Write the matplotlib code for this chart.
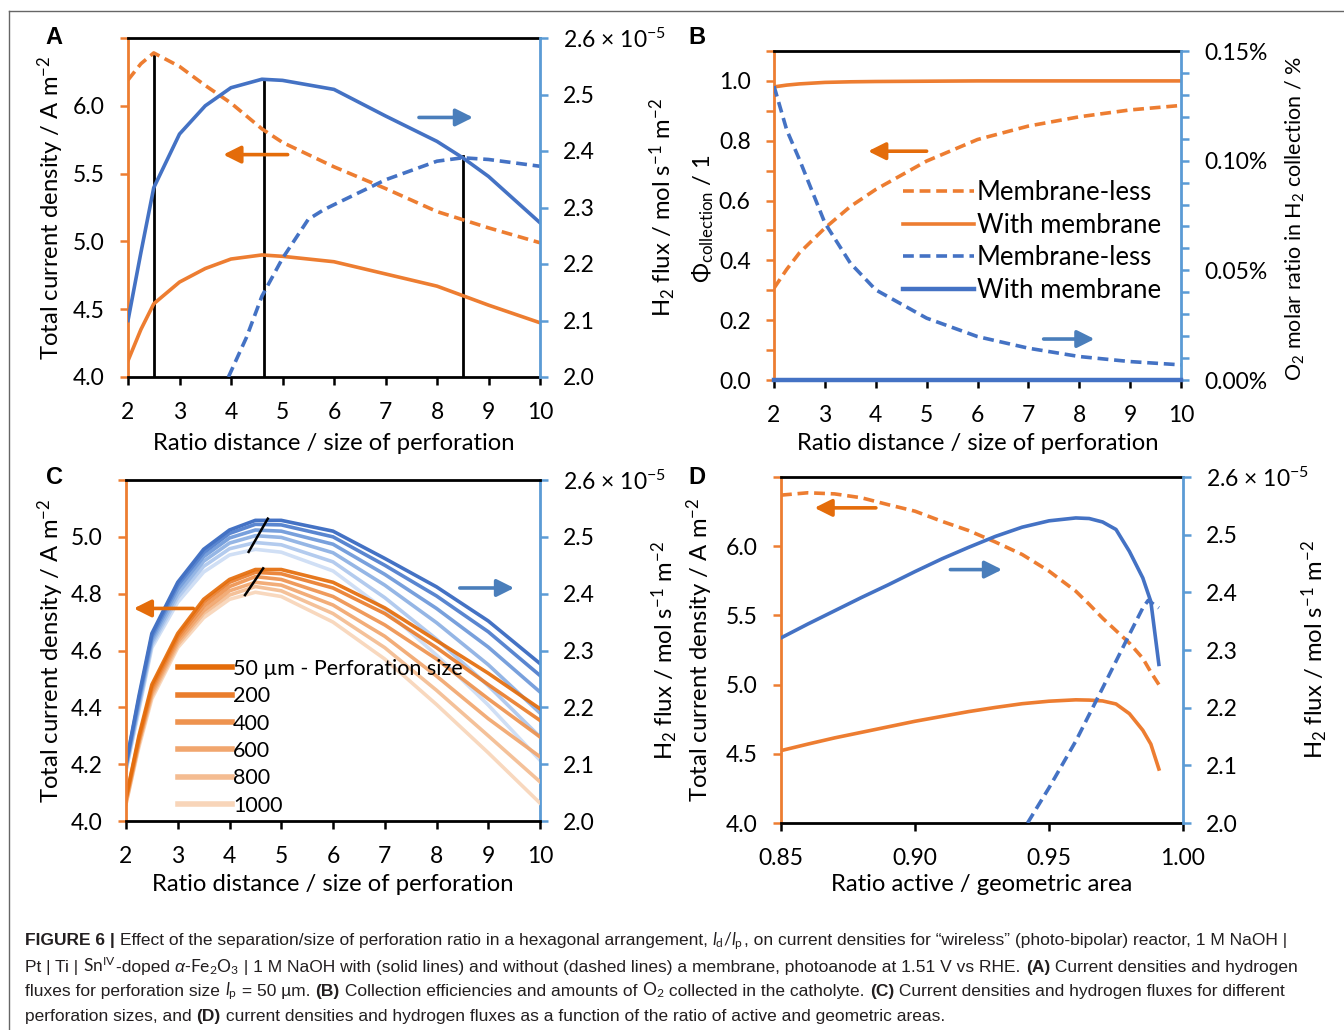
import matplotlib
matplotlib.use("Agg")
import matplotlib.pyplot as plt
from matplotlib.ticker import FixedLocator, FuncFormatter
from matplotlib.lines import Line2D
from matplotlib.offsetbox import TextArea, HPacker, AnchoredOffsetbox

plt.rcParams['font.family'] = ['Lato', 'DejaVu Sans']
plt.rcParams['mathtext.fontset'] = 'custom'
plt.rcParams['mathtext.rm'] = 'Lato'
plt.rcParams['mathtext.it'] = 'Lato:italic'
plt.rcParams['mathtext.bf'] = 'Lato:bold'

ORANGE = '#ED7D31'
ORANGE_ARROW = '#E46C0A'
BLUE = '#4472C4'
BLUE_AXIS = '#5B9BD5'
BLUE_ARROW = '#4A7EBB'

# ---- data ----
# A: current density (A m-2) and H2 flux (x 1e-5 mol s-1 m-2), perforation 50 um
ratio_a = [2, 2.25, 2.5, 3, 3.5, 4, 4.6, 5, 6, 7, 8, 8.5, 9, 10]
j_nomem_a = [6.19, 6.31, 6.39, 6.29, 6.15, 6.02, 5.83, 5.73, 5.55, 5.39, 5.22, 5.16, 5.10, 4.99]
j_mem_a = [4.12, 4.35, 4.54, 4.70, 4.80, 4.87, 4.90, 4.89, 4.85, 4.76, 4.67, 4.60, 4.53, 4.40]
h2_mem_a = [2.10, 2.22, 2.335, 2.43, 2.48, 2.512, 2.527, 2.525, 2.509, 2.462, 2.417, 2.388, 2.355, 2.273]
ratio_a_nomem = [3.95, 4.3, 4.6, 5, 5.5, 5.8, 6, 7, 8, 8.5, 9, 10]
h2_nomem_a = [2.0, 2.07, 2.143, 2.21, 2.279, 2.296, 2.305, 2.349, 2.382, 2.388, 2.385, 2.373]
peak_x_a = [2.5, 4.65, 8.5]
peak_top_a = [6.39, 6.195, 5.63]

# B: collection efficiency and O2 molar ratio (%)
ratio_b = [2, 2.25, 2.5, 3, 3.5, 4, 5, 6, 7, 8, 9, 10]
phi_nomem = [0.307, 0.37, 0.425, 0.508, 0.58, 0.637, 0.732, 0.804, 0.849, 0.88, 0.903, 0.918]
phi_mem = [0.98, 0.986, 0.99, 0.995, 0.997, 0.998, 0.999, 1.0, 1.0, 1.0, 1.0, 1.0]
o2_nomem = [0.134, 0.114, 0.1005, 0.0716, 0.0533, 0.0411, 0.0282, 0.0198, 0.0145, 0.0107, 0.0084, 0.0069]
o2_mem = [0, 0, 0, 0, 0, 0, 0, 0, 0, 0, 0, 0]

# C: different perforation sizes (with membrane)
ratio_c = [2, 2.25, 2.5, 3, 3.5, 4, 4.5, 5, 6, 7, 8, 9, 10]
sizes_c = ['50 µm - Perforation size', '200', '400', '600', '800', '1000']
j_c = [
    [4.08, 4.30, 4.48, 4.66, 4.78, 4.85, 4.885, 4.885, 4.84, 4.75, 4.635, 4.52, 4.395],
    [4.08, 4.29, 4.47, 4.65, 4.77, 4.84, 4.875, 4.87, 4.82, 4.73, 4.61, 4.48, 4.354],
    [4.07, 4.28, 4.46, 4.64, 4.755, 4.825, 4.86, 4.85, 4.79, 4.69, 4.57, 4.43, 4.296],
    [4.07, 4.28, 4.45, 4.63, 4.74, 4.81, 4.84, 4.83, 4.76, 4.65, 4.51, 4.36, 4.226],
    [4.06, 4.27, 4.44, 4.62, 4.73, 4.795, 4.825, 4.81, 4.73, 4.61, 4.46, 4.30, 4.138],
    [4.06, 4.26, 4.43, 4.61, 4.715, 4.78, 4.805, 4.79, 4.70, 4.57, 4.41, 4.24, 4.063],
]
h2_c = [
    [2.10, 2.22, 2.33, 2.42, 2.478, 2.512, 2.529, 2.529, 2.51, 2.462, 2.412, 2.352, 2.277],
    [2.10, 2.215, 2.325, 2.415, 2.472, 2.506, 2.522, 2.521, 2.50, 2.45, 2.396, 2.333, 2.256],
    [2.095, 2.21, 2.32, 2.408, 2.465, 2.498, 2.512, 2.510, 2.487, 2.434, 2.374, 2.306, 2.227],
    [2.095, 2.205, 2.315, 2.40, 2.457, 2.489, 2.502, 2.499, 2.472, 2.415, 2.349, 2.275, 2.19],
    [2.09, 2.20, 2.31, 2.393, 2.448, 2.479, 2.49, 2.486, 2.456, 2.393, 2.32, 2.238, 2.148],
    [2.09, 2.195, 2.305, 2.385, 2.438, 2.468, 2.478, 2.473, 2.44, 2.372, 2.292, 2.204, 2.107],
]
orange_shades = ['#E46C0A', '#EA7D2C', '#EE934F', '#F1A66E', '#F4BC91', '#F8D5B9']
blue_shades = ['#4472C4', '#5A86D0', '#78A0DC', '#95B6E5', '#B3CBEE', '#D0DFF5']

# D: ratio active / geometric area
area_d = [0.85, 0.86, 0.87, 0.88, 0.89, 0.90, 0.91, 0.92, 0.93, 0.94, 0.95, 0.96,
          0.965, 0.97, 0.975, 0.98, 0.985, 0.988, 0.991]
j_nomem_d = [6.369, 6.386, 6.378, 6.35, 6.30, 6.253, 6.18, 6.113, 6.03, 5.94, 5.82, 5.675,
             5.58, 5.48, 5.39, 5.30, 5.19, 5.09, 5.00]
j_mem_d = [4.523, 4.57, 4.615, 4.655, 4.695, 4.735, 4.77, 4.805, 4.835, 4.862, 4.88, 4.89,
           4.888, 4.882, 4.86, 4.79, 4.67, 4.57, 4.39]
h2_mem_d = [2.321, 2.345, 2.368, 2.391, 2.413, 2.436, 2.458, 2.478, 2.497, 2.513, 2.524, 2.529,
            2.528, 2.522, 2.509, 2.471, 2.425, 2.384, 2.275]
area_d_nomem = [0.942, 0.95, 0.96, 0.97, 0.98, 0.985, 0.987, 0.991]
h2_nomem_d = [2.0, 2.061, 2.142, 2.234, 2.327, 2.373, 2.386, 2.373]

W, H = 1344, 1030
fig = plt.figure(figsize=(W / 100, H / 100), dpi=100)

TICK = 16.5
LABEL = 17.2


def rect(l, t, r, b):
    return [l / W, 1 - b / H, (r - l) / W, (b - t) / H]


def panel(r, xlim, xticks, xfmt, ylim, yticks, yfmt, y2lim, y2ticks, y2fmt):
    ax = fig.add_axes(rect(*r))
    ax2 = ax.twinx()
    ax.set_xlim(xlim)
    ax.set_ylim(ylim)
    ax2.set_ylim(y2lim)
    ax.xaxis.set_major_locator(FixedLocator(xticks))
    ax.xaxis.set_major_formatter(FuncFormatter(xfmt))
    ax.yaxis.set_major_locator(FixedLocator(yticks))
    ax.yaxis.set_major_formatter(FuncFormatter(yfmt))
    ax2.yaxis.set_major_locator(FixedLocator(y2ticks))
    ax2.yaxis.set_major_formatter(FuncFormatter(y2fmt))
    for s in ['top', 'bottom']:
        ax.spines[s].set_color('black')
        ax.spines[s].set_linewidth(2)
    ax.spines['left'].set_color(ORANGE)
    ax.spines['left'].set_linewidth(2)
    ax.spines['right'].set_visible(False)
    for s in ['top', 'bottom', 'left']:
        ax2.spines[s].set_visible(False)
    ax2.spines['right'].set_color(BLUE_AXIS)
    ax2.spines['right'].set_linewidth(2)
    ax.tick_params(axis='x', direction='out', length=5.8, width=1.8, color='black', pad=12, labelsize=TICK)
    ax.tick_params(axis='y', direction='out', length=5.8, width=1.8, color=ORANGE, pad=11, labelsize=TICK)
    ax2.tick_params(axis='y', direction='out', length=5.8, width=1.8, color=BLUE_AXIS, pad=11, labelsize=TICK)
    return ax, ax2


def arrow(ax, tail, head, color):
    ax.annotate('', xy=head, xytext=tail,
                arrowprops=dict(arrowstyle='-|>', color=color, lw=2.6, mutation_scale=26,
                                shrinkA=0, shrinkB=0))


def f1(v, p):
    return f'{v:.1f}'


def flux_fmt(top):
    def f(v, p):
        if abs(v - top) < 1e-9:
            return f'{v:.1f} × $10^{{-5}}$'
        return f'{v:.1f}'
    return f


def skip_top(top, fmt):
    def f(v, p):
        if abs(v - top) < 1e-9:
            return ''
        return fmt(v, p)
    return f


DASH = (3, 1.6)
LW = 2.6
J_LABEL = 'Total current density / A m$^{-2}$'
H2_LABEL = 'H$_2$ flux / mol s$^{-1}$ m$^{-2}$'
X_LABEL = 'Ratio distance / size of perforation'

# ---- A ----
ax, ax2 = panel((128, 38, 540, 377), (2, 10), range(2, 11), lambda v, p: f'{v:g}',
                (4.0, 6.5), [4.0, 4.5, 5.0, 5.5, 6.0, 6.5], skip_top(6.5, f1),
                (2.0, 2.6), [2.0, 2.1, 2.2, 2.3, 2.4, 2.5, 2.6], flux_fmt(2.6))
for px, pt in zip(peak_x_a, peak_top_a):
    ax.plot([px, px], [4.0, pt], color='black', lw=2, zorder=1)
ax.plot(ratio_a, j_nomem_a, color=ORANGE, lw=LW, dashes=DASH)
ax.plot(ratio_a, j_mem_a, color=ORANGE, lw=LW)
ax2.plot(ratio_a, h2_mem_a, color=BLUE, lw=LW)
ax2.plot(ratio_a_nomem, h2_nomem_a, color=BLUE, lw=LW, dashes=DASH)
arrow(ax, (5.1, 5.64), (3.85, 5.64), ORANGE_ARROW)
arrow(ax, (7.65, 5.914), (8.7, 5.914), BLUE_ARROW)
ax.set_xlabel(X_LABEL, fontsize=LABEL, labelpad=7.5)
ax.set_ylabel(J_LABEL, fontsize=LABEL)
ax.yaxis.set_label_coords(-0.150, 0.5)
ax2.set_ylabel(H2_LABEL, fontsize=LABEL, rotation=90)
ax2.yaxis.set_label_coords(1.262, 0.5)

# ---- B ----
ax, ax2 = panel((774, 51, 1181, 380), (2, 10), range(2, 11), lambda v, p: f'{v:g}',
                (0.0, 1.1), [0.0, 0.2, 0.4, 0.6, 0.8, 1.0], f1,
                (0.0, 0.15), [0.0, 0.05, 0.10, 0.15], lambda v, p: f'{v:.2f}%')
ax.yaxis.set_minor_locator(FixedLocator([0.1, 0.3, 0.5, 0.7, 0.9, 1.1]))
ax.tick_params(axis='y', which='minor', direction='out', length=5.8, width=1.8, color=ORANGE)
ax2.yaxis.set_minor_locator(FixedLocator([i / 100 for i in range(16) if i % 5]))
ax2.tick_params(axis='y', which='minor', direction='out', length=5.8, width=1.8, color=BLUE_AXIS)
l1, = ax.plot(ratio_b, phi_nomem, color=ORANGE, lw=LW, dashes=DASH)
l2, = ax.plot(ratio_b, phi_mem, color=ORANGE, lw=LW)
l3, = ax2.plot(ratio_b, o2_nomem, color=BLUE, lw=LW, dashes=DASH)
l4, = ax2.plot(ratio_b, o2_mem, color=BLUE, lw=3.2, clip_on=False, zorder=5)
arrow(ax, (5.0, 0.765), (3.85, 0.765), ORANGE_ARROW)
arrow(ax, (7.3, 0.137), (8.3, 0.137), BLUE_ARROW)
ax2.legend([l1, l2, l3, l4], ['Membrane-less', 'With membrane', 'Membrane-less', 'With membrane'],
           loc='upper left', bbox_to_anchor=(0.317, 0.608), frameon=False, fontsize=18.5,
           handlelength=2.75, handletextpad=0.12, labelspacing=0.3, borderpad=0, borderaxespad=0)
ax.set_xlabel(X_LABEL, fontsize=LABEL, labelpad=5)
ax.set_ylabel(r'$\Phi_{\mathrm{collection}}$ / 1', fontsize=LABEL)
ax.yaxis.set_label_coords(-0.142, 0.49)
ax2.set_ylabel('O$_2$ molar ratio in H$_2$ collection / %', fontsize=15.5, rotation=90)
ax2.yaxis.set_label_coords(1.253, 0.49)

# ---- C ----
ax, ax2 = panel((126, 480, 540, 821), (2, 10), range(2, 11), lambda v, p: f'{v:g}',
                (4.0, 5.2), [4.0, 4.2, 4.4, 4.6, 4.8, 5.0, 5.2], skip_top(5.2, f1),
                (2.0, 2.6), [2.0, 2.1, 2.2, 2.3, 2.4, 2.5, 2.6], flux_fmt(2.6))
ax.set_zorder(ax2.get_zorder() + 1)
ax.patch.set_visible(False)
handles = []
for i in range(len(sizes_c) - 1, -1, -1):
    ax2.plot(ratio_c, h2_c[i], color=blue_shades[i], lw=LW)
for i in range(len(sizes_c) - 1, -1, -1):
    ln, = ax.plot(ratio_c, j_c[i], color=orange_shades[i], lw=LW, alpha=0.92)
    handles.insert(0, ln)
ax.plot([4.37, 4.74], [4.947, 5.064], color='black', lw=1.8)
ax.plot([4.30, 4.65], [4.795, 4.889], color='black', lw=1.8)
arrow(ax, (3.3, 4.748), (2.15, 4.748), ORANGE_ARROW)
arrow(ax, (8.45, 4.82), (9.5, 4.82), BLUE_ARROW)
leg = ax.legend(handles, sizes_c, loc='upper left', bbox_to_anchor=(0.126, 0.475), frameon=False,
                fontsize=15.5, handlelength=2.5, handletextpad=0.05, labelspacing=0.34,
                borderpad=0, borderaxespad=0)
for h in leg.legend_handles:
    h.set_linewidth(4)
    h.set_alpha(1)
ax.set_xlabel(X_LABEL, fontsize=LABEL, labelpad=5.5)
ax.set_ylabel(J_LABEL, fontsize=LABEL)
ax.yaxis.set_label_coords(-0.145, 0.5)
ax2.set_ylabel(H2_LABEL, fontsize=LABEL, rotation=90)
ax2.yaxis.set_label_coords(1.266, 0.5)

# ---- D ----
ax, ax2 = panel((781, 477, 1183, 823), (0.85, 1.0), [0.85, 0.90, 0.95, 1.00], lambda v, p: f'{v:.2f}',
                (4.0, 6.5), [4.0, 4.5, 5.0, 5.5, 6.0, 6.5], skip_top(6.5, f1),
                (2.0, 2.6), [2.0, 2.1, 2.2, 2.3, 2.4, 2.5, 2.6], flux_fmt(2.6))
ax.plot(area_d, j_nomem_d, color=ORANGE, lw=LW, dashes=DASH)
ax.plot(area_d, j_mem_d, color=ORANGE, lw=LW)
ax2.plot(area_d, h2_mem_d, color=BLUE, lw=LW)
ax2.plot(area_d_nomem, h2_nomem_d, color=BLUE, lw=LW, dashes=DASH)
arrow(ax, (0.8854, 6.277), (0.8625, 6.277), ORANGE_ARROW)
arrow(ax, (0.9132, 5.831), (0.9325, 5.831), BLUE_ARROW)
ax.set_xlabel('Ratio active / geometric area', fontsize=LABEL, labelpad=3.5)
ax.set_ylabel(J_LABEL, fontsize=LABEL)
ax.yaxis.set_label_coords(-0.164, 0.5)
ax2.set_ylabel(H2_LABEL, fontsize=LABEL, rotation=90)
ax2.yaxis.set_label_coords(1.291, 0.5)

# panel letters
for letter, x, y in [('A', 54, 38), ('B', 697, 38), ('C', 54, 478), ('D', 697, 478)]:
    fig.text(x / W, 1 - y / H, letter, fontsize=17, fontweight='bold', family='Liberation Sans',
             ha='center', va='center')

# frame
fig.add_artist(Line2D([9 / W, 1], [1 - 11 / H, 1 - 11 / H], transform=fig.transFigure, color='#666666', lw=1))
fig.add_artist(Line2D([9 / W, 9 / W], [0, 1 - 11 / H], transform=fig.transFigure, color='#666666', lw=1))

# caption
CAP = dict(family='Liberation Sans', fontsize=12.5, color='#231f20')
caption = [
    [('FIGURE 6', 'b'), (' | ', 'b'),
     ('Effect of the separation/size of perforation ratio in a hexagonal arrangement, ', ''),
     (r'$\mathit{l}_\mathrm{d}/\mathit{l}_\mathrm{p}$', ''),
     (', on current densities for “wireless” (photo-bipolar) reactor, 1 M NaOH |', '')],
    [('Pt | Ti | ', ''), (r'$\mathrm{Sn}^{\mathrm{IV}}$', ''), ('-doped ', ''), ('α', 'i'),
     ('-', ''), (r'$\mathrm{Fe}_2\mathrm{O}_3$', ''),
     (' | 1 M NaOH with (solid lines) and without (dashed lines) a membrane, photoanode at 1.51 V vs RHE. ', ''),
     ('(A)', 'b'), (' Current densities and hydrogen', '')],
    [('fluxes for perforation size ', ''), (r'$\mathit{l}_\mathrm{p}$', ''), (' = 50 µm. ', ''),
     ('(B)', 'b'), (' Collection efficiencies and amounts of ', ''), (r'$\mathrm{O}_2$', ''),
     (' collected in the catholyte. ', ''), ('(C)', 'b'),
     (' Current densities and hydrogen fluxes for different', '')],
    [('perforation sizes, and ', ''), ('(D)', 'b'),
     (' current densities and hydrogen fluxes as a function of the ratio of active and geometric areas.', '')],
]
for k, parts in enumerate(caption):
    boxes = []
    for s, st in parts:
        props = dict(CAP)
        if st == 'b':
            props['fontweight'] = 'bold'
        if st == 'i':
            props['fontstyle'] = 'italic'
        boxes.append(TextArea(s, textprops=props))
    line = HPacker(children=boxes, align='baseline', pad=0, sep=0)
    y = 941 + k * 25.3
    fig.add_artist(AnchoredOffsetbox(loc='center left', child=line, pad=0, borderpad=0, frameon=False,
                                     bbox_to_anchor=(25 / W, 1 - y / H), bbox_transform=fig.transFigure))

fig.savefig('out.png', dpi=100)
